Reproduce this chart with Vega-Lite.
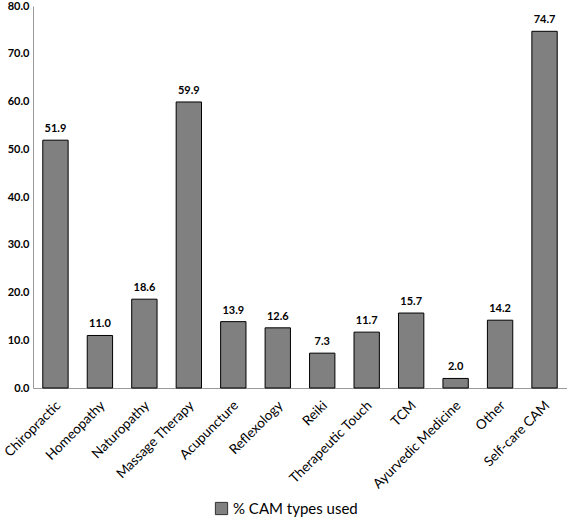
{
  "$schema": "https://vega.github.io/schema/vega-lite/v6.json",
  "autosize": {"type": "none"},
  "width": 534,
  "height": 382,
  "padding": {"left": 33, "top": 6, "right": 0, "bottom": 131},
  "config": {"view": {"stroke": null}, "font": "Lato"},
  "data": {"values": [
    {"type": "Chiropractic", "pct": 51.9, "series": "% CAM types used"},
    {"type": "Homeopathy", "pct": 11.0, "series": "% CAM types used"},
    {"type": "Naturopathy", "pct": 18.6, "series": "% CAM types used"},
    {"type": "Massage Therapy", "pct": 59.9, "series": "% CAM types used"},
    {"type": "Acupuncture", "pct": 13.9, "series": "% CAM types used"},
    {"type": "Reflexology", "pct": 12.6, "series": "% CAM types used"},
    {"type": "Reiki", "pct": 7.3, "series": "% CAM types used"},
    {"type": "Therapeutic Touch", "pct": 11.7, "series": "% CAM types used"},
    {"type": "TCM", "pct": 15.7, "series": "% CAM types used"},
    {"type": "Ayurvedic Medicine", "pct": 2.0, "series": "% CAM types used"},
    {"type": "Other", "pct": 14.2, "series": "% CAM types used"},
    {"type": "Self-care CAM", "pct": 74.7, "series": "% CAM types used"}
  ]},
  "encoding": {
    "x": {"field": "type", "type": "nominal", "sort": null,
      "scale": {"paddingInner": 0.43, "paddingOuter": 0.22},
      "axis": {"title": null, "labelAngle": -45, "labelAlign": "right", "labelBaseline": "middle",
        "labelFontSize": 13.5, "labelColor": "#000", "ticks": false, "domainColor": "#999", "labelPadding": 15, "labelOffset": 3}},
    "y": {"field": "pct", "type": "quantitative",
      "scale": {"domain": [0, 80]},
      "axis": {"title": null, "grid": false, "ticks": false, "tickCount": 8, "format": ".1f",
        "labelFontSize": 11, "labelFontWeight": "bold", "labelColor": "#000", "domainColor": "#999", "labelPadding": 4}}
  },
  "layer": [
    {"mark": {"type": "bar", "stroke": "#000", "strokeWidth": 1},
     "encoding": {"fill": {"field": "series", "type": "nominal",
        "scale": {"range": ["#808080"]},
        "legend": {"title": null, "orient": "none", "legendX": 181, "legendY": 495,
          "symbolType": "square", "symbolSize": 150, "symbolStrokeColor": "#333", "symbolStrokeWidth": 1,
          "labelFontSize": 15, "labelColor": "#000", "labelLimit": 300}}}},
    {"mark": {"type": "text", "dy": -11, "fontSize": 11, "fontWeight": "bold", "color": "#000"},
     "encoding": {"text": {"field": "pct", "type": "quantitative", "format": ".1f"}}}
  ]
}
